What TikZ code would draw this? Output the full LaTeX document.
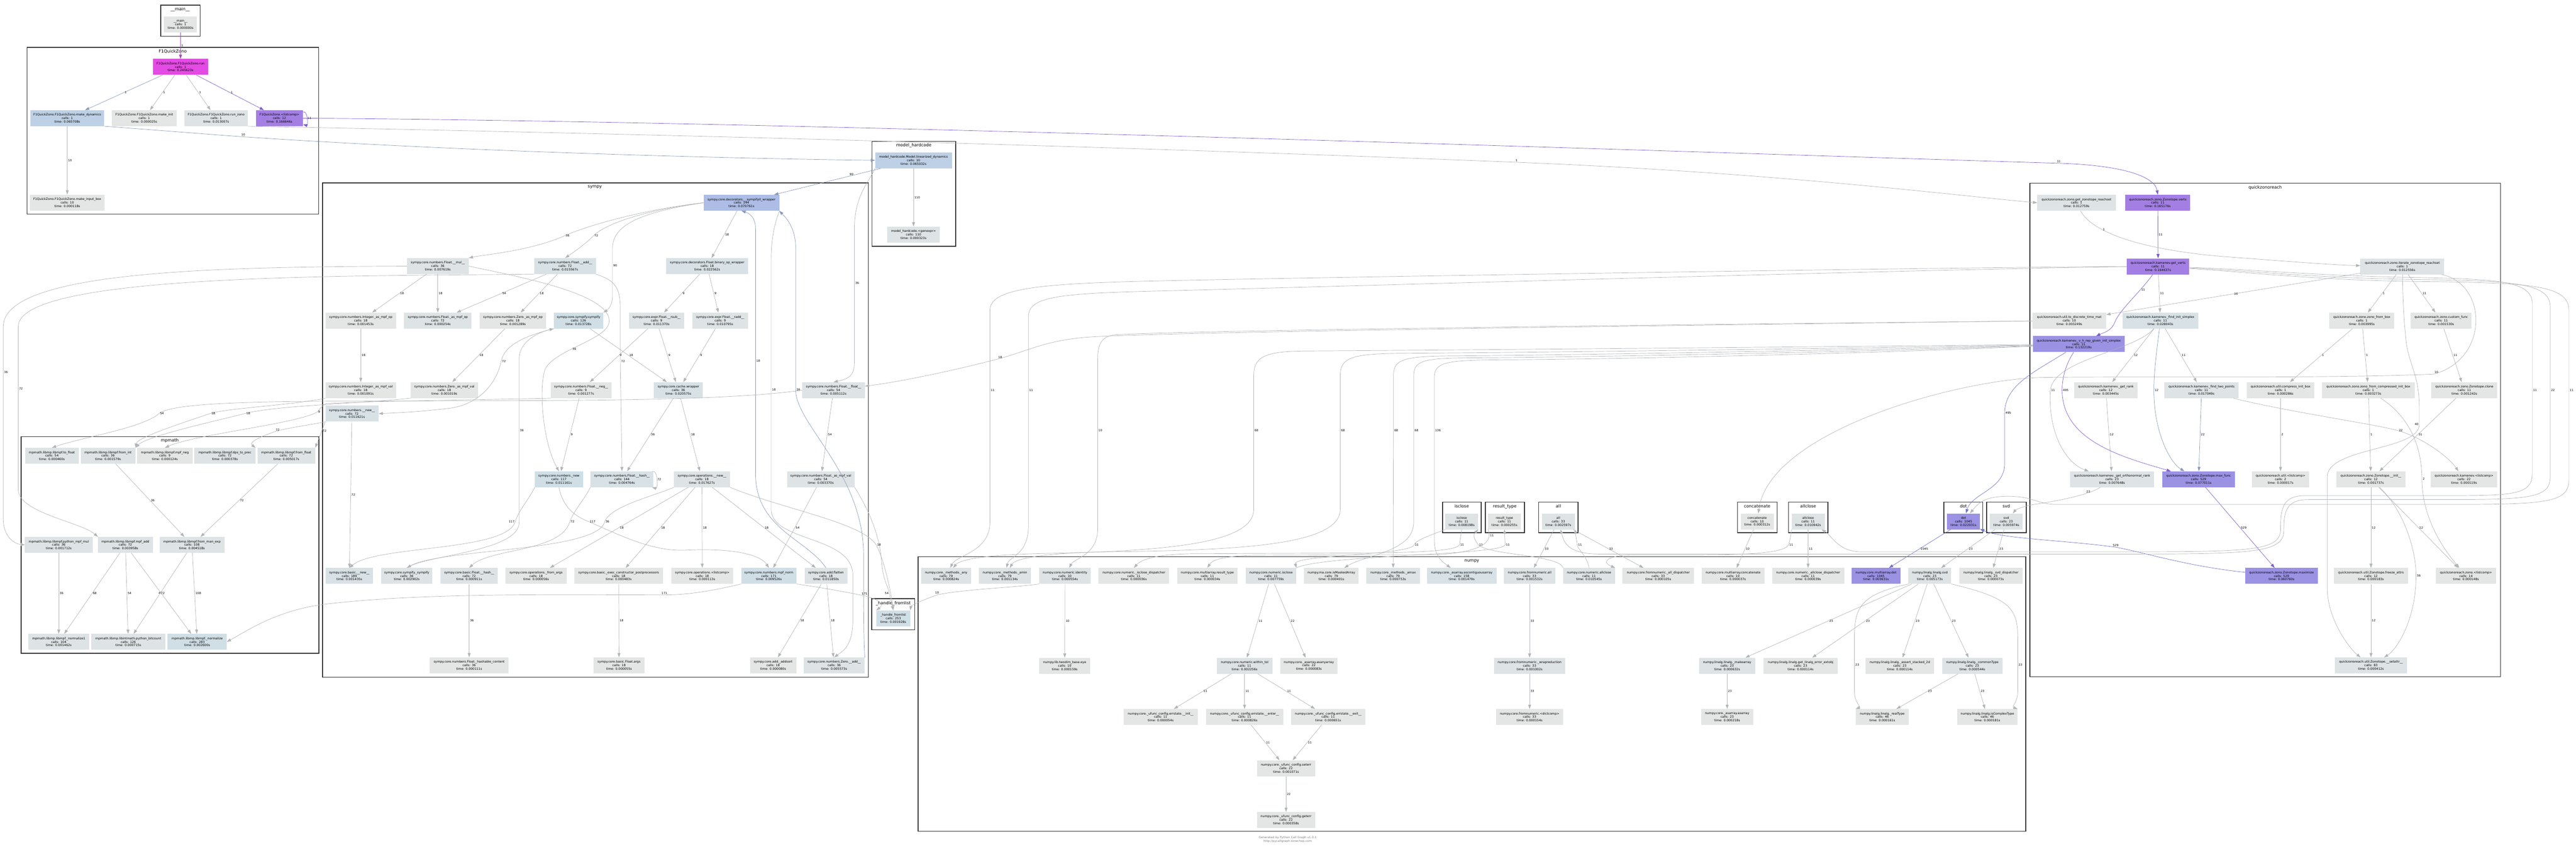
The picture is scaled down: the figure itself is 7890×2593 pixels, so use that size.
\documentclass[tikz,border=0pt]{standalone}
\usepackage{fontspec}
\setmainfont{DejaVu Sans}
\usetikzlibrary{arrows.meta,positioning}
\definecolor{cg}{HTML}{E4E5E5}
\definecolor{cbA}{HTML}{DEE3E5}
\definecolor{cbB}{HTML}{D8E2E6}
\definecolor{cbC}{HTML}{D0DFE6}
\definecolor{cbD}{HTML}{BED0E5}
\definecolor{cbE}{HTML}{AEBDE6}
\definecolor{cpu}{HTML}{A37FE4}
\definecolor{cvi}{HTML}{9B92E4}
\definecolor{cmg}{HTML}{E44AE4}
\definecolor{egray}{HTML}{B2B5B8}
\definecolor{eblue}{HTML}{8A9AB8}
\definecolor{epurp}{HTML}{7E5CC8}
\definecolor{eviol}{HTML}{7272C8}
\definecolor{emag}{HTML}{B040C8}
\definecolor{cline}{HTML}{333333}
\newcommand{\calltxt}[3]{\detokenize{#1}\\calls: #2\\time: #3s}
\begin{document}
\begin{tikzpicture}[x=1pt,y=-1pt,>={Triangle[length=13pt,width=9pt]},
  fn/.style={rectangle,inner xsep=2pt,inner ysep=1pt,minimum height=49pt,
    align=center,font=\fontsize{9.5}{10.7}\selectfont},
  every edge/.style={draw=egray,line width=1.1pt,->},
  e/.style={draw=egray,line width=1.1pt,->},
  lbl/.style={font=\fontsize{9}{10}\selectfont,inner sep=2pt,anchor=west},
  clu/.style={draw=cline,line width=2.4pt},
  clab/.style={font=\fontsize{13}{15}\selectfont,inner sep=0pt}]
\fill[white] (0,0) rectangle (7890,2593);
\useasboundingbox (0,0) rectangle (7890,2593);

% __main__ and F1QuickZono
\draw[clu] (492,16) rectangle (613,111);
\node[clab] (cmain) at (552,29) {\detokenize{__main__}};
\node[fn,fill=cg,minimum width=101pt] (main) at (553,75) {\calltxt{__main__}{1}{0.000000}};
\draw[clu] (83,145) rectangle (976,656);
\node[clab] (cf1) at (529,158) {F1QuickZono};
\node[fn,fill=cmg,minimum width=168pt] (run) at (553,205) {\calltxt{F1QuickZono.F1QuickZono.run}{1}{0.245623}};
\node[fn,fill=cbD,minimum width=227pt] (mdyn) at (206,362) {\calltxt{F1QuickZono.F1QuickZono.make_dynamics}{1}{0.065708}};
\node[fn,fill=cg,minimum width=199pt] (minit) at (442,362) {\calltxt{F1QuickZono.F1QuickZono.make_init}{1}{0.000025}};
\node[fn,fill=cbA,minimum width=195pt] (rzono) at (662,362) {\calltxt{F1QuickZono.F1QuickZono.run_zono}{1}{0.013007}};
\node[fn,fill=cpu,minimum width=144pt] (lcomp) at (856,362) {\calltxt{F1QuickZono.<listcomp>}{12}{0.166646}};
\node[fn,fill=cg,minimum width=228pt,below=209pt of mdyn] (mibox) {\calltxt{F1QuickZono.F1QuickZono.make_input_box}{10}{0.000118}};

% model_hardcode
\draw[clu] (2671,433) rectangle (2927,754);
\node[clab] (cmodel) at (2799,446) {\detokenize{model_hardcode}};
\node[fn,fill=cbD,minimum width=235pt] (lind) at (2798,491) {\calltxt{model_hardcode.Model.linearized_dynamics}{10}{0.065032}};
\node[fn,fill=cbA,minimum width=162pt,below=178pt of lind] (genexpr) {\calltxt{model_hardcode.<genexpr>}{110}{0.000323}};

% sympy
\draw[clu] (988,560) rectangle (2660,2074);
\node[clab] (csympy) at (1822,573) {sympy};
\node[fn,fill=cbE,minimum width=232pt] (swrap) at (2271,621) {\calltxt{sympy.core.decorators.__sympifyit_wrapper}{144}{0.070761}};
\node[fn,fill=cbA,minimum width=189pt] (fmul) at (1341,815) {\calltxt{sympy.core.numbers.Float.__mul__}{36}{0.007619}};
\node[fn,fill=cbB,minimum width=189pt] (fadd) at (1731,815) {\calltxt{sympy.core.numbers.Float.__add__}{72}{0.015567}};
\node[fn,fill=cbB,minimum width=251pt] (fbin) at (2166,815) {\calltxt{sympy.core.decorators.Float.binary_op_wrapper}{18}{0.022562}};
\node[fn,fill=cg,minimum width=216pt] (iampo) at (1105,982) {\calltxt{sympy.core.numbers.Integer._as_mpf_op}{18}{0.001453}};
\node[fn,fill=cbA,minimum width=207pt] (fampo) at (1341,982) {\calltxt{sympy.core.numbers.Float._as_mpf_op}{72}{0.000254}};
\node[fn,fill=cg,minimum width=204pt] (zampo) at (1571,982) {\calltxt{sympy.core.numbers.Zero._as_mpf_op}{18}{0.001289}};
\node[fn,fill=cbC,minimum width=151pt] (sympify) at (1772,982) {\calltxt{sympy.core.sympify.sympify}{126}{0.013728}};
\node[fn,fill=cbA,minimum width=170pt] (frsub) at (2011,982) {\calltxt{sympy.core.expr.Float.__rsub__}{9}{0.011370}};
\node[fn,fill=cbA,minimum width=171pt] (fradd) at (2206,982) {\calltxt{sympy.core.expr.Float.__radd__}{9}{0.010795}};
\node[fn,fill=cg,minimum width=216pt] (iampv) at (1105,1195) {\calltxt{sympy.core.numbers.Integer._as_mpf_val}{18}{0.001091}};
\node[fn,fill=cg,minimum width=206pt] (zampv) at (1361,1195) {\calltxt{sympy.core.numbers.Zero._as_mpf_val}{18}{0.001019}};
\node[fn,fill=cg,minimum width=187pt] (fneg) at (1780,1195) {\calltxt{sympy.core.numbers.Float.__neg__}{9}{0.001277}};
\node[fn,fill=cbB,minimum width=150pt] (cwrap) at (2078,1195) {\calltxt{sympy.core.cache.wrapper}{36}{0.020575}};
\node[fn,fill=cbA,minimum width=192pt] (ffloat) at (2553,1195) {\calltxt{sympy.core.numbers.Float.__float__}{54}{0.005112}};
\node[fn,fill=cbB,minimum width=163pt] (nnew) at (1078,1267) {\calltxt{sympy.core.numbers.__new__}{72}{0.011621}};
\node[fn,fill=cbC,minimum width=148pt] (nnew2) at (1712,1468) {\calltxt{sympy.core.numbers._new}{117}{0.011161}};
\node[fn,fill=cbB,minimum width=193pt] (fhash) at (1905,1468) {\calltxt{sympy.core.numbers.Float.__hash__}{144}{0.004764}};
\node[fn,fill=cbA,minimum width=172pt] (opnew) at (2150,1468) {\calltxt{sympy.core.operations.__new__}{18}{0.017627}};
\node[fn,fill=cbA,minimum width=207pt] (fampv) at (2514,1468) {\calltxt{sympy.core.numbers.Float._as_mpf_val}{54}{0.003370}};
\node[fn,fill=cbB,minimum width=145pt] (bnew) at (1070,1764) {\calltxt{sympy.core.basic.__new__}{189}{0.001435}};
\node[fn,fill=cbA,minimum width=157pt] (ssymp) at (1246,1764) {\calltxt{sympy.core.sympify._sympify}{36}{0.002902}};
\node[fn,fill=cbA,minimum width=176pt] (bfhash) at (1437,1764) {\calltxt{sympy.core.basic.Float.__hash__}{72}{0.000911}};
\node[fn,fill=cg,minimum width=187pt] (fromargs) at (1642,1764) {\calltxt{sympy.core.operations._from_args}{18}{0.000056}};
\node[fn,fill=cg,minimum width=271pt] (execpp) at (1895,1764) {\calltxt{sympy.core.basic._exec_constructor_postprocessors}{18}{0.000483}};
\node[fn,fill=cg,minimum width=190pt] (oplc) at (2151,1764) {\calltxt{sympy.core.operations.<listcomp>}{18}{0.000113}};
\node[fn,fill=cbC,minimum width=170pt] (mpfnorm) at (2355,1764) {\calltxt{sympy.core.numbers.mpf_norm}{171}{0.009526}};
\node[fn,fill=cbA,minimum width=130pt] (flatten) at (2530,1764) {\calltxt{sympy.core.add.flatten}{18}{0.011850}};
\node[fn,fill=cg,minimum width=242pt] (hashc) at (1437,2038) {\calltxt{sympy.core.numbers.Float._hashable_content}{36}{0.000111}};
\node[fn,fill=cg,minimum width=156pt] (fargs) at (1896,2038) {\calltxt{sympy.core.basic.Float.args}{18}{0.000055}};
\node[fn,fill=cg,minimum width=142pt] (addsort) at (2368,2038) {\calltxt{sympy.core.add._addsort}{18}{0.000080}};
\node[fn,fill=cbA,minimum width=187pt] (zadd) at (2555,2038) {\calltxt{sympy.core.numbers.Zero.__add__}{36}{0.005573}};

% mpmath
\draw[clu] (65,1337) rectangle (977,2001);
\node[clab] (cmpmath) at (520,1350) {mpmath};
\node[fn,fill=cbA,minimum width=164pt] (tofloat) at (159,1396) {\calltxt{mpmath.libmp.libmpf.to_float}{54}{0.000460}};
\node[fn,fill=cbA,minimum width=168pt] (fromint) at (331,1396) {\calltxt{mpmath.libmp.libmpf.from_int}{36}{0.001579}};
\node[fn,fill=cg,minimum width=169pt] (mpfneg) at (505,1396) {\calltxt{mpmath.libmp.libmpf.mpf_neg}{9}{0.000124}};
\node[fn,fill=cbA,minimum width=187pt] (dps) at (689,1396) {\calltxt{mpmath.libmp.libmpf.dps_to_prec}{72}{0.000378}};
\node[fn,fill=cbA,minimum width=177pt] (fromfloat) at (877,1396) {\calltxt{mpmath.libmp.libmpf.from_float}{72}{0.005017}};
\node[fn,fill=cbA,minimum width=207pt] (pymul) at (180,1669) {\calltxt{mpmath.libmp.libmpf.python_mpf_mul}{36}{0.001712}};
\node[fn,fill=cbA,minimum width=168pt] (mpfadd) at (384,1669) {\calltxt{mpmath.libmp.libmpf.mpf_add}{72}{0.003958}};
\node[fn,fill=cbA,minimum width=199pt] (fromman) at (588,1669) {\calltxt{mpmath.libmp.libmpf.from_man_exp}{108}{0.004518}};
\node[fn,fill=cbA,minimum width=187pt] (norm1) at (180,1966) {\calltxt{mpmath.libmp.libmpf._normalize1}{104}{0.001462}};
\node[fn,fill=cbA,minimum width=227pt] (bitcount) at (393,1966) {\calltxt{mpmath.libmp.libintmath.python_bitcount}{126}{0.000715}};
\node[fn,fill=cbC,minimum width=181pt] (normalize) at (604,1966) {\calltxt{mpmath.libmp.libmpf._normalize}{283}{0.002600}};

% _handle_fromlist
\draw[clu] (2670,1834) rectangle (2802,1929);
\node[clab] (chandle) at (2736,1848) {\detokenize{_handle_fromlist}};
\node[fn,fill=cbC,minimum width=104pt] (handle) at (2736,1894) {\calltxt{_handle_fromlist}{253}{0.001928}};

% numpy
\draw[clu] (2812,1705) rectangle (6205,2546);
\node[clab] (cnumpy) at (4508,1718) {numpy};
\node[fn,fill=cbA,minimum width=153pt] (any) at (2898,1764) {\calltxt{numpy.core._methods._any}{79}{0.000824}};
\node[fn,fill=cbA,minimum width=159pt] (amin) at (3078,1764) {\calltxt{numpy.core._methods._amin}{79}{0.001134}};
\node[fn,fill=cbA,minimum width=158pt] (ident) at (3262,1764) {\calltxt{numpy.core.numeric.identity}{10}{0.000554}};
\node[fn,fill=cg,minimum width=216pt] (iscdisp) at (3473,1764) {\calltxt{numpy.core.numeric._isclose_dispatcher}{11}{0.000036}};
\node[fn,fill=cg,minimum width=186pt] (mrtype) at (3698,1764) {\calltxt{numpy.core.multiarray.result_type}{11}{0.000034}};
\node[fn,fill=cbA,minimum width=155pt] (nisclose) at (3893,1764) {\calltxt{numpy.core.numeric.isclose}{11}{0.007759}};
\node[fn,fill=cg,minimum width=167pt] (ismask) at (4078,1764) {\calltxt{numpy.ma.core.isMaskedArray}{79}{0.000401}};
\node[fn,fill=cbA,minimum width=163pt] (amax) at (4267,1764) {\calltxt{numpy.core._methods._amax}{79}{0.000753}};
\node[fn,fill=cbB,minimum width=213pt] (ascont) at (4477,1764) {\calltxt{numpy.core._asarray.ascontiguousarray}{158}{0.001479}};
\node[fn,fill=cbA,minimum width=158pt] (fnall) at (4685,1764) {\calltxt{numpy.core.fromnumeric.all}{33}{0.001532}};
\node[fn,fill=cbA,minimum width=160pt] (nallclose) at (4867,1764) {\calltxt{numpy.core.numeric.allclose}{11}{0.010545}};
\node[fn,fill=cg,minimum width=219pt] (alldisp) at (5079,1764) {\calltxt{numpy.core.fromnumeric._all_dispatcher}{33}{0.000105}};
\node[fn,fill=cg,minimum width=192pt] (mconcat) at (5308,1764) {\calltxt{numpy.core.multiarray.concatenate}{10}{0.000037}};
\node[fn,fill=cg,minimum width=221pt] (acdisp) at (5538,1764) {\calltxt{numpy.core.numeric._allclose_dispatcher}{11}{0.000039}};
\node[fn,fill=cvi,minimum width=149pt] (mdot) at (5746,1764) {\calltxt{numpy.core.multiarray.dot}{1045}{0.003631}};
\node[fn,fill=cbA,minimum width=131pt] (lsvd) at (5911,1764) {\calltxt{numpy.linalg.linalg.svd}{23}{0.005173}};
\node[fn,fill=cg,minimum width=194pt] (svddisp) at (6098,1764) {\calltxt{numpy.linalg.linalg._svd_dispatcher}{23}{0.000073}};
\node[fn,fill=cg,minimum width=155pt] (eye) at (3261,2039) {\calltxt{numpy.lib.twodim_base.eye}{10}{0.000159}};
\node[fn,fill=cbA,minimum width=170pt] (wtol) at (3812,2039) {\calltxt{numpy.core.numeric.within_tol}{11}{0.002256}};
\node[fn,fill=cg,minimum width=175pt] (asany) at (4009,2039) {\calltxt{numpy.core._asarray.asanyarray}{22}{0.000083}};
\node[fn,fill=cbA,minimum width=219pt] (wrapred) at (4685,2039) {\calltxt{numpy.core.fromnumeric._wrapreduction}{33}{0.001002}};
\node[fn,fill=cbA,minimum width=171pt] (mkarr) at (5290,2039) {\calltxt{numpy.linalg.linalg._makearray}{23}{0.000632}};
\node[fn,fill=cg,minimum width=228pt] (errobj) at (5515,2039) {\calltxt{numpy.linalg.linalg.get_linalg_error_extobj}{23}{0.000114}};
\node[fn,fill=cg,minimum width=209pt] (st2d) at (5819,2039) {\calltxt{numpy.linalg.linalg._assert_stacked_2d}{23}{0.000114}};
\node[fn,fill=cbA,minimum width=184pt] (ctype) at (6041,2039) {\calltxt{numpy.linalg.linalg._commonType}{23}{0.000544}};
\node[fn,fill=cg,minimum width=228pt] (esinit) at (3555,2196) {\calltxt{numpy.core._ufunc_config.errstate.__init__}{11}{0.000054}};
\node[fn,fill=cg,minimum width=236pt] (esenter) at (3812,2196) {\calltxt{numpy.core._ufunc_config.errstate.__enter__}{11}{0.000826}};
\node[fn,fill=cg,minimum width=228pt] (esexit) at (4068,2196) {\calltxt{numpy.core._ufunc_config.errstate.__exit__}{11}{0.000651}};
\node[fn,fill=cg,minimum width=204pt] (dictc) at (4685,2196) {\calltxt{numpy.core.fromnumeric.<dictcomp>}{33}{0.000154}};
\node[fn,fill=cg,minimum width=159pt] (asarr) at (5290,2196) {\calltxt{numpy.core._asarray.asarray}{23}{0.000218}};
\node[fn,fill=cg,minimum width=162pt] (realt) at (5765,2196) {\calltxt{numpy.linalg.linalg._realType}{46}{0.000161}};
\node[fn,fill=cg,minimum width=185pt] (iscplx) at (6087,2196) {\calltxt{numpy.linalg.linalg.isComplexType}{46}{0.000181}};
\node[fn,fill=cg,minimum width=178pt] (seterr) at (3939,2353) {\calltxt{numpy.core._ufunc_config.seterr}{22}{0.001071}};
\node[fn,fill=cg,minimum width=178pt,below=109pt of seterr] (geterr) {\calltxt{numpy.core._ufunc_config.geterr}{22}{0.000358}};

% builtin groups
\draw[clu] (4418,1538) rectangle (4537,1632);
\node[clab] (cisclose) at (4477,1551) {isclose};
\node[fn,fill=cbA,minimum width=101pt] (isclosen) at (4477,1597) {\calltxt{isclose}{11}{0.008198}};
\draw[clu] (4549,1538) rectangle (4669,1632);
\node[clab] (crtype) at (4609,1551) {\detokenize{result_type}};
\node[fn,fill=cg,minimum width=101pt] (rtypen) at (4608,1597) {\calltxt{result_type}{11}{0.000255}};
\draw[clu] (4713,1538) rectangle (4833,1632);
\node[clab] (call) at (4773,1551) {all};
\node[fn,fill=cbA,minimum width=101pt] (alln) at (4773,1597) {\calltxt{all}{33}{0.002597}};
\draw[clu] (5322,1538) rectangle (5443,1632);
\node[clab] (cconcat) at (5382,1551) {concatenate};
\node[fn,fill=cg,minimum width=101pt] (concatn) at (5382,1597) {\calltxt{concatenate}{10}{0.000312}};
\draw[clu] (5478,1538) rectangle (5599,1632);
\node[clab] (callclose) at (5538,1551) {allclose};
\node[fn,fill=cbA,minimum width=101pt] (allclosen) at (5538,1597) {\calltxt{allclose}{11}{0.010942}};
\draw[clu] (5954,1538) rectangle (6073,1632);
\node[clab] (cdot) at (6014,1551) {dot};
\node[fn,fill=cvi,minimum width=101pt] (dotn) at (6014,1597) {\calltxt{dot}{1045}{0.022031}};
\draw[clu] (6085,1538) rectangle (6206,1632);
\node[clab] (csvd) at (6145,1551) {svd};
\node[fn,fill=cbA,minimum width=101pt] (svdn) at (6145,1597) {\calltxt{svd}{23}{0.005974}};

% quickzonoreach
\draw[clu] (6217,561) rectangle (7659,2073);
\node[clab] (cqzr) at (6938,575) {quickzonoreach};
\node[fn,fill=cbA,minimum width=240pt] (getreach) at (6360,621) {\calltxt{quickzonoreach.zono.get_zonotope_reachset}{1}{0.012759}};
\node[fn,fill=cpu,minimum width=199pt] (verts) at (6609,621) {\calltxt{quickzonoreach.zono.Zonotope.verts}{11}{0.165176}};
\node[fn,fill=cpu,minimum width=191pt] (getverts) at (6610,816) {\calltxt{quickzonoreach.kamenev.get_verts}{11}{0.164637}};
\node[fn,fill=cbA,minimum width=257pt] (iterreach) at (7358,816) {\calltxt{quickzonoreach.zono.iterate_zonotope_reachset}{1}{0.012556}};
\node[fn,fill=cg,minimum width=226pt] (todisc) at (6338,982) {\calltxt{quickzonoreach.util.to_discrete_time_mat}{10}{0.003249}};
\node[fn,fill=cbB,minimum width=231pt] (findinit) at (6617,982) {\calltxt{quickzonoreach.kamenev._find_init_simplex}{11}{0.028043}};
\node[fn,fill=cg,minimum width=199pt] (zfbox) at (7234,982) {\calltxt{quickzonoreach.zono.zono_from_box}{1}{0.003995}};
\node[fn,fill=cg,minimum width=186pt] (cfunc) at (7477,982) {\calltxt{quickzonoreach.zono.custom_func}{11}{0.001530}};
\node[fn,fill=cvi,minimum width=281pt] (vhrep) at (6367,1054) {\calltxt{quickzonoreach.kamenev._v_h_rep_given_init_simplex}{11}{0.132219}};
\node[fn,fill=cg,minimum width=193pt] (getrank) at (6450,1195) {\calltxt{quickzonoreach.kamenev._get_rank}{12}{0.003445}};
\node[fn,fill=cbA,minimum width=227pt] (twopts) at (6743,1195) {\calltxt{quickzonoreach.kamenev._find_two_points}{11}{0.017049}};
\node[fn,fill=cg,minimum width=208pt] (cib) at (6985,1195) {\calltxt{quickzonoreach.util.compress_init_box}{1}{0.000286}};
\node[fn,fill=cg,minimum width=283pt] (zfcib) at (7254,1195) {\calltxt{quickzonoreach.zono.zono_from_compressed_init_box}{1}{0.003273}};
\node[fn,fill=cg,minimum width=202pt] (zclone) at (7548,1195) {\calltxt{quickzonoreach.zono.Zonotope.clone}{11}{0.001242}};
\node[fn,fill=cbA,minimum width=257pt] (orthrank) at (6469,1468) {\calltxt{quickzonoreach.kamenev._get_orthonormal_rank}{23}{0.007648}};
\node[fn,fill=cvi,minimum width=221pt] (maxfunc) at (6734,1468) {\calltxt{quickzonoreach.zono.Zonotope.max_func}{529}{0.077011}};
\node[fn,fill=cg,minimum width=176pt] (ulc) at (6985,1468) {\calltxt{quickzonoreach.util.<listcomp>}{2}{0.000017}};
\node[fn,fill=cg,minimum width=212pt] (zinit) at (7262,1468) {\calltxt{quickzonoreach.zono.Zonotope.__init__}{12}{0.001737}};
\node[fn,fill=cg,minimum width=203pt] (klc) at (7547,1468) {\calltxt{quickzonoreach.kamenev.<listcomp>}{22}{0.000119}};
\node[fn,fill=cvi,minimum width=222pt] (maximize) at (6988,1764) {\calltxt{quickzonoreach.zono.Zonotope.maximize}{529}{0.060760}};
\node[fn,fill=cg,minimum width=227pt] (freeze) at (7262,1764) {\calltxt{quickzonoreach.util.Zonotope.freeze_attrs}{12}{0.000183}};
\node[fn,fill=cg,minimum width=184pt] (zlc) at (7553,1764) {\calltxt{quickzonoreach.zono.<listcomp>}{14}{0.000148}};
\node[fn,fill=cbA,minimum width=221pt] (setattr) at (7262,2038) {\calltxt{quickzonoreach.util.Zonotope.__setattr__}{83}{0.000412}};

\node[font=\fontsize{9}{11}\selectfont,text=gray,align=center] (gen) at (3944,2571) {Generated by Python Call Graph v1.0.1\\http://pycallgraph.slowchop.com};

% F1QuickZono calls
\path (main) edge[draw=emag] node[lbl]{1} (run)
  (run) edge[draw=eblue] node[lbl]{1} (mdyn)
  (run) edge node[lbl]{1} (minit)
  (run) edge node[lbl]{1} (rzono)
  (run) edge[draw=epurp] node[lbl]{1} (lcomp)
  (lcomp) edge[draw=epurp,loop right,min distance=16pt] node[lbl]{11} (lcomp)
  (mdyn) edge node[lbl]{10} (mibox)
  (lind) edge node[lbl]{110} (genexpr)
  (lind) edge[draw=eblue] node[lbl,pos=0.3,anchor=south west]{90} (swrap);
\draw[e,draw=eblue] (mdyn.south east) .. controls (500,400) and (620,410) .. (745,419) node[lbl,anchor=south]{10} .. controls (1500,470) and (2400,488) .. (lind.west);
\draw[e] (rzono.south east) .. controls (2500,420) and (3845,465) .. (4645,497) node[lbl,anchor=south]{1} .. controls (5445,529) and (6000,600) .. (getreach.west);
\draw[e,draw=epurp] (lcomp.east) .. controls (2500,372) and (5300,470) .. (6306,500) node[lbl,anchor=south]{11} .. controls (6500,506) and (6600,540) .. (verts.north);
\draw[e] (lind.south west) .. controls (2660,560) and (2617,600) .. (2617,700) -- (2617,867) node[lbl]{36} -- (2617,1110) .. controls (2617,1150) and (2600,1160) .. (ffloat.north);

% sympy calls
\draw[e] (swrap.west) .. controls (1980,640) and (1800,690) .. (1730,722) node[lbl]{36} .. controls (1620,770) and (1480,780) .. (fmul.north east);
\draw[e] (swrap.west) .. controls (2000,640) and (1860,680) .. (1818,722) node[lbl]{72} .. controls (1790,750) and (1760,770) .. (fadd.north);
\draw[e] (swrap.west) .. controls (1960,650) and (1876,690) .. (1876,760) -- (1876,814) node[lbl]{90} -- (1876,910) .. controls (1876,935) and (1860,950) .. (sympify.north east);
\path (swrap) edge node[lbl]{18} (fbin)
  (fmul) edge node[lbl]{18} (iampo)
  (fmul) edge node[lbl]{18} (fampo)
  (fadd) edge node[lbl]{54} (fampo)
  (fadd) edge node[lbl]{18} (zampo)
  (fbin) edge node[lbl]{9} (frsub)
  (fbin) edge node[lbl]{9} (fradd)
  (iampo) edge node[lbl]{18} (iampv)
  (zampo) edge node[lbl]{18} (zampv)
  (frsub) edge node[lbl]{9} (fneg)
  (sympify) edge node[lbl]{18} (cwrap)
  (frsub) edge node[lbl]{9} (cwrap)
  (fradd) edge node[lbl]{9} (cwrap)
  (fneg) edge node[lbl]{9} (nnew2)
  (cwrap) edge node[lbl]{36} (fhash)
  (cwrap) edge node[lbl]{18} (opnew)
  (ffloat) edge node[lbl]{54} (fampv)
  (fhash) edge[loop right,min distance=16pt] node[lbl]{72} (fhash)
  (nnew) edge node[lbl]{72} (bnew)
  (opnew) edge node[lbl]{18} (fromargs)
  (opnew) edge node[lbl]{18} (execpp)
  (opnew) edge node[lbl]{18} (oplc)
  (opnew) edge node[lbl]{18} (flatten)
  (fampv) edge node[lbl]{54} (mpfnorm)
  (bfhash) edge node[lbl]{36} (hashc)
  (execpp) edge node[lbl]{18} (fargs)
  (flatten) edge node[lbl]{18} (addsort)
  (flatten) edge node[lbl]{18} (zadd);
\draw[e] (sympify.south west) .. controls (1600,1030) and (1545,1060) .. (1535,1106) node[lbl]{72} .. controls (1525,1160) and (1480,1235) .. (1380,1250) .. controls (1280,1262) and (1220,1264) .. (nnew.east);
\draw[e] (fmul.east) .. controls (1600,850) and (1870,900) .. (1866,985) .. controls (1862,1040) and (1700,1070) .. (1670,1130) node[lbl,pos=0.6]{36} .. controls (1650,1180) and (1660,1350) .. (nnew2.north);
\draw[e] (fadd.south east) .. controls (1885,860) and (1900,880) .. (1900,950) -- (1900,1106) node[lbl]{72} -- (fhash.north);
\draw[e] (ssymp.north) .. controls (1300,1700) and (1590,1690) .. (1590,1600) -- (1590,1319) node[lbl]{36} -- (1590,1100) .. controls (1590,1040) and (1660,1015) .. (sympify.south west);
\draw[e] (opnew.south west) .. controls (2000,1520) and (1870,1550) .. (1852,1598) node[lbl]{36} .. controls (1830,1690) and (1350,1680) .. (ssymp.north);
\draw[e] (nnew2.south west) .. controls (1620,1530) and (1590,1560) .. (1578,1598) node[lbl,anchor=east]{117} .. controls (1550,1690) and (1150,1670) .. (bnew.north);
\draw[e] (nnew2.south) .. controls (1725,1560) and (1770,1585) .. (1804,1598) node[lbl]{117} .. controls (1900,1640) and (2000,1690) .. (2100,1685) .. controls (2250,1678) and (2330,1700) .. (mpfnorm.north);
\draw[e] (fhash.south west) .. controls (1790,1530) and (1760,1560) .. (1745,1598) node[lbl]{72} .. controls (1720,1690) and (1500,1680) .. (bfhash.north);
\draw[e,draw=eblue] (flatten.north) .. controls (2470,1650) and (2314,1620) .. (2314,1450) -- (2314,1106) node[lbl]{18} -- (2314,700) .. controls (2314,670) and (2300,655) .. (swrap.south);
\draw[e] (swrap.south east) .. controls (2375,680) and (2362,720) .. (2362,800) -- (2362,1194) node[lbl]{18} -- (2362,1560) .. controls (2362,1660) and (2610,1640) .. (2612,1760) -- (2612,1900) .. controls (2612,1980) and (2580,1995) .. (zadd.north);
\draw[e,draw=eblue] (zadd.north east) .. controls (2645,1960) and (2645,1850) .. (2645,1700) .. controls (2645,1450) and (2437,1300) .. (2437,1194) node[lbl]{36} -- (2437,760) .. controls (2437,690) and (2400,660) .. (swrap.south east);

% sympy to mpmath
\draw[e] (ffloat.west) .. controls (2300,1218) and (2000,1226) .. (1600,1227) -- (1000,1229) .. controls (700,1230) and (520,1240) .. (488,1266) node[lbl]{54} .. controls (440,1310) and (250,1340) .. (tofloat.north);
\draw[e] (iampv.south west) .. controls (900,1240) and (700,1250) .. (645,1266) node[lbl]{18} .. controls (560,1295) and (420,1340) .. (fromint.north east);
\draw[e] (zampv.south west) .. controls (1100,1236) and (850,1242) .. (752,1266) node[lbl]{18} .. controls (680,1285) and (450,1335) .. (fromint.north east);
\draw[e] (fneg.south west) .. controls (1500,1224) and (1150,1228) .. (1000,1236) .. controls (990,1240) and (980,1250) .. (972,1262) node[lbl]{9} .. controls (900,1300) and (600,1330) .. (mpfneg.north);
\draw[e] (nnew.south west) .. controls (960,1300) and (880,1310) .. (842,1322) node[lbl,anchor=south west]{72} .. controls (800,1336) and (760,1355) .. (dps.north east);
\path (nnew.south west) edge node[lbl,pos=0.35]{72} (fromfloat.north east);
\draw[e] (fmul.west) .. controls (700,818) and (10,825) .. (10,1000) -- (10,1140) node[lbl]{36} -- (10,1590) .. controls (10,1640) and (40,1665) .. (pymul.west);
\draw[e] (fadd.south west) .. controls (1100,846) and (56,836) .. (56,1000) -- (56,1190) node[lbl]{72} -- (56,1500) .. controls (56,1570) and (250,1600) .. (mpfadd.north west);
\path (fromint) edge node[lbl]{36} (fromman)
  (fromfloat) edge node[lbl]{72} (fromman)
  (pymul) edge node[lbl]{36} (norm1)
  (mpfadd) edge node[lbl]{68} (norm1)
  (mpfadd) edge node[lbl]{54} (bitcount)
  (mpfadd) edge node[lbl,anchor=east]{4} (normalize)
  (fromman) edge node[lbl]{72} (bitcount)
  (fromman) edge node[lbl]{108} (normalize);
\draw[e] (mpfnorm.south west) .. controls (2200,1805) and (2120,1822) .. (2035,1822) node[lbl,anchor=south]{171} .. controls (1700,1822) and (1300,1815) .. (1000,1850) .. controls (850,1868) and (760,1930) .. (normalize.east);

% into _handle_fromlist
\draw[e] (mpfnorm.south east) .. controls (2520,1800) and (2600,1815) .. (2648,1825) node[lbl,anchor=south]{171} .. controls (2690,1835) and (2710,1850) .. (handle.north west);
\draw[e] (fampv.south east) .. controls (2660,1560) and (2695,1640) .. (2700,1720) .. controls (2705,1780) and (2722,1800) .. (2724,1817) node[lbl,anchor=east]{54} -- (handle.north);
\draw[e] (opnew.south east) .. controls (2400,1560) and (2640,1600) .. (2684,1669) node[lbl]{18} .. controls (2710,1720) and (2730,1820) .. (handle.north);
\draw[e] (ident.south west) .. controls (3100,1800) and (2950,1805) .. (2870,1822) node[lbl,anchor=south]{10} .. controls (2820,1840) and (2790,1855) .. (handle.north east);

% numpy calls
\path (ident) edge node[lbl]{10} (eye)
  (nisclose) edge node[lbl]{11} (wtol)
  (nisclose) edge node[lbl]{22} (asany)
  (wtol) edge node[lbl]{11} (esinit)
  (wtol) edge node[lbl]{11} (esenter)
  (wtol) edge node[lbl]{11} (esexit)
  (esenter) edge node[lbl]{11} (seterr)
  (esexit) edge node[lbl]{11} (seterr)
  (seterr) edge node[lbl]{22} (geterr)
  (fnall) edge node[lbl]{33} (wrapred)
  (wrapred) edge node[lbl]{33} (dictc)
  (lsvd) edge node[lbl]{23} (mkarr)
  (lsvd) edge node[lbl]{23} (errobj)
  (lsvd) edge node[lbl]{23} (st2d)
  (lsvd) edge node[lbl]{23} (ctype)
  (mkarr) edge node[lbl]{23} (asarr)
  (ctype) edge node[lbl]{23} (realt)
  (ctype) edge node[lbl]{23} (iscplx)
  (alln) edge node[lbl]{33} (fnall)
  (alln) edge node[lbl]{33} (alldisp)
  (concatn) edge node[lbl]{10} (mconcat)
  (allclosen) edge node[lbl]{11} (acdisp)
  (dotn) edge[draw=eviol] node[lbl]{1045} (mdot)
  (svdn) edge node[lbl]{23} (lsvd)
  (svdn) edge node[lbl]{23} (svddisp);
\draw[e] (lsvd.south west) .. controls (5700,1820) and (5680,1860) .. (5680,1950) -- (5680,2037) node[lbl]{23} -- (5680,2120) .. controls (5680,2150) and (5700,2165) .. (realt.north west);
\draw[e] (lsvd.south east) .. controls (6150,1830) and (6180,1860) .. (6180,1950) -- (6180,2037) node[lbl]{23} -- (6180,2120) .. controls (6180,2150) and (6160,2165) .. (iscplx.north east);
\draw[e] (isclosen.south west) .. controls (4380,1640) and (4335,1655) .. (4331,1669) node[lbl]{11} .. controls (4320,1700) and (3960,1700) .. (nisclose.north east);
\draw[e] (isclosen.south) -- (4470,1669) node[lbl]{11} .. controls (4460,1690) and (4300,1694) .. (4100,1694) -- (3650,1696) .. controls (3520,1698) and (3490,1720) .. (iscdisp.north);
\draw[e] (nallclose.north west) .. controls (4780,1700) and (4560,1700) .. (4528,1669) node[lbl]{11} .. controls (4515,1650) and (4510,1640) .. (isclosen.south east);
\draw[e] (rtypen.south west) .. controls (4570,1650) and (4560,1690) .. (4400,1699) node[lbl,pos=0.2]{11} -- (3850,1701) .. controls (3730,1702) and (3710,1720) .. (mrtype.north);
\draw[e] (nisclose.north east) .. controls (4050,1700) and (4600,1700) .. (4610,1669) node[lbl]{11} -- (rtypen.south);
\draw[e] (nallclose.north) .. controls (4860,1700) and (4830,1680) .. (4831,1669) node[lbl]{11} -- (alln.south east);
\draw[e] (allclosen.south west) .. controls (5485,1640) and (5482,1655) .. (5478,1669) node[lbl]{11} .. controls (5460,1700) and (5300,1700) .. (5100,1700) -- (5000,1700) .. controls (4930,1700) and (4900,1720) .. (nallclose.north east);

% quickzonoreach calls
\path (verts) edge[draw=epurp] node[lbl]{11} (getverts)
  (getverts) edge node[lbl]{11} (findinit)
  (iterreach) edge node[lbl]{10} (todisc)
  (iterreach) edge node[lbl]{1} (zfbox)
  (iterreach) edge node[lbl]{11} (cfunc)
  (findinit) edge node[lbl]{12} (getrank)
  (findinit) edge node[lbl]{11} (twopts)
  (zfbox) edge node[lbl]{1} (cib)
  (zfbox) edge node[lbl]{1} (zfcib)
  (cfunc) edge node[lbl]{11} (zclone)
  (getrank) edge node[lbl]{12} (orthrank)
  (twopts) edge[draw=eblue] node[lbl]{22} (maxfunc)
  (cib) edge node[lbl]{2} (ulc)
  (zfcib) edge node[lbl]{1} (zinit)
  (zclone) edge node[lbl]{11} (zinit)
  (maxfunc) edge[draw=epurp] node[lbl]{529} (maximize)
  (zinit) edge node[lbl]{12} (freeze)
  (zinit) edge node[lbl]{12} (zlc)
  (freeze) edge node[lbl]{12} (setattr);
\draw[e,draw=epurp] (getverts) .. controls (6560,890) and (6490,950) .. (6476,990) node[lbl,pos=0.3]{11} .. controls (6465,1015) and (6440,1020) .. (vhrep);
\draw[e] (getreach) .. controls (6400,700) and (6520,760) .. (6800,785) node[lbl,pos=0.35]{1} .. controls (7000,800) and (7150,812) .. (iterreach);
\draw[e] (findinit) .. controls (6540,1075) and (6290,1100) .. (6280,1195) node[lbl]{11} .. controls (6272,1330) and (6330,1420) .. (orthrank);
\draw[e,draw=epurp] (vhrep) .. controls (6325,1120) and (6316,1160) .. (6316,1195) node[lbl]{495} .. controls (6316,1350) and (6500,1400) .. (maxfunc);
\draw[e,draw=eblue] (findinit) .. controls (6605,1080) and (6597,1140) .. (6597,1195) node[lbl]{12} .. controls (6597,1330) and (6650,1420) .. (maxfunc);
\draw[e] (twopts) .. controls (7000,1260) and (7280,1300) .. (7345,1319) node[lbl]{22} .. controls (7420,1340) and (7500,1400) .. (klc);
\draw[e] (iterreach) .. controls (7360,950) and (7365,1000) .. (7370,1050) .. controls (7380,1120) and (7410,1150) .. (7410,1250) -- (7410,1300) node[lbl,anchor=east]{40} .. controls (7410,1380) and (7130,1370) .. (7128,1460) -- (7128,1800) .. controls (7128,1900) and (7200,1990) .. (setattr);
\draw[e] (zinit) .. controls (7360,1560) and (7400,1680) .. (7400,1763) node[lbl]{36} .. controls (7400,1900) and (7340,1990) .. (setattr);
\draw[e] (zfcib) .. controls (7400,1290) and (7418,1400) .. (7418,1467) node[lbl]{2} .. controls (7418,1600) and (7500,1700) .. (zlc);

% quickzonoreach to numpy
\draw[e] (orthrank) .. controls (6400,1515) and (6300,1535) .. (6230,1545) node[lbl,pos=0.3,anchor=south west]{23} .. controls (6200,1550) and (6175,1560) .. (svdn);
\draw[e,draw=eviol] (maximize) .. controls (6700,1735) and (6560,1690) .. (6480,1676) node[lbl,anchor=south]{529} .. controls (6330,1655) and (6130,1650) .. (dotn);
\draw[e,draw=eviol] (vhrep) .. controls (6230,1140) and (6140,1180) .. (6140,1265) node[lbl]{495} -- (6140,1420) .. controls (6140,1500) and (6040,1510) .. (dotn);
\draw[e] (vhrep) .. controls (5800,1060) and (4500,1072) .. (4000,1075) .. controls (3880,1076) and (3840,1090) .. (3840,1150) -- (3840,1318) node[lbl]{68} -- (3840,1560) .. controls (3840,1660) and (3600,1688) .. (3200,1695) .. controls (3000,1700) and (2940,1715) .. (any);
\draw[e] (vhrep) .. controls (5800,1065) and (4700,1080) .. (4300,1082) .. controls (4140,1083) and (4105,1095) .. (4105,1150) -- (4105,1318) node[lbl]{68} -- (4105,1560) .. controls (4105,1670) and (3800,1685) .. (3400,1690) .. controls (3200,1693) and (3110,1710) .. (amin);
\draw[e] (vhrep) .. controls (5800,1070) and (4800,1088) .. (4450,1090) .. controls (4300,1091) and (4268,1100) .. (4268,1150) -- (4268,1318) node[lbl]{68} -- (amax);
\draw[e] (vhrep) .. controls (5800,1075) and (4900,1094) .. (4500,1096) .. controls (4360,1097) and (4330,1105) .. (4330,1150) -- (4330,1318) node[lbl]{68} -- (4330,1600) .. controls (4330,1690) and (4180,1700) .. (ismask);
\draw[e] (vhrep) .. controls (5800,1080) and (5000,1100) .. (4600,1102) .. controls (4420,1103) and (4393,1110) .. (4393,1160) -- (4393,1318) node[lbl]{136} -- (4393,1650) .. controls (4393,1700) and (4410,1715) .. (ascont);
\draw[e] (getverts) .. controls (6000,818) and (4000,850) .. (3560,860) .. controls (3200,868) and (3032,880) .. (3032,950) -- (3032,1195) node[lbl]{11} -- (3032,1600) .. controls (3032,1690) and (2930,1700) .. (any);
\draw[e] (getverts) .. controls (6000,822) and (4000,880) .. (3600,890) .. controls (3250,898) and (3150,905) .. (3150,970) -- (3150,1195) node[lbl]{11} -- (3150,1610) .. controls (3150,1700) and (3090,1705) .. (amin);
\draw[e] (todisc) .. controls (5500,990) and (3700,1010) .. (3420,1025) .. controls (3370,1028) and (3362,1060) .. (3362,1100) -- (3362,1318) node[lbl]{10} -- (3362,1620) .. controls (3362,1700) and (3290,1710) .. (ident);
\draw[e] (todisc) .. controls (5500,992) and (3600,1015) .. (3340,1032) .. controls (3200,1042) and (3150,1075) .. (3055,1100) node[lbl,anchor=south west]{18} .. controls (2900,1140) and (2750,1170) .. (ffloat);
\draw[e] (iterreach) .. controls (7620,870) and (7625,1100) .. (7454,1146) node[lbl,anchor=south west]{10} .. controls (7100,1160) and (6600,1152) .. (6260,1156) .. controls (6000,1160) and (5420,1320) .. (concatn);
\draw[e] (getverts) .. controls (6900,825) and (7100,845) .. (7400,850) .. controls (7650,855) and (7756,860) .. (7756,930) -- (7756,1195) node[lbl]{11} -- (7756,1450) .. controls (7756,1515) and (7700,1518) .. (7500,1518) -- (7060,1518) .. controls (6990,1518) and (6985,1560) .. (6985,1620) .. controls (6985,1688) and (6900,1690) .. (6500,1690) -- (5700,1690) .. controls (5630,1690) and (5610,1640) .. (allclosen);
\draw[e] (getverts) .. controls (6900,830) and (7100,852) .. (7400,856) .. controls (7700,860) and (7811,866) .. (7811,940) -- (7811,1195) node[lbl]{22} -- (7811,1460) .. controls (7811,1525) and (7750,1530) .. (7500,1530) -- (7070,1530) .. controls (7000,1530) and (6995,1570) .. (6995,1625) .. controls (6995,1694) and (6900,1697) .. (6500,1697) -- (4900,1697) .. controls (4800,1697) and (4790,1660) .. (alln);
\draw[e] (getverts) .. controls (6900,835) and (7100,858) .. (7400,862) .. controls (7750,866) and (7868,872) .. (7868,950) -- (7868,1195) node[lbl]{11} -- (7868,1470) .. controls (7868,1540) and (7800,1545) .. (7500,1545) -- (6300,1545) .. controls (6240,1545) and (6230,1520) .. (6150,1520) .. controls (6080,1520) and (6060,1540) .. (dotn);
\end{tikzpicture}
\end{document}
